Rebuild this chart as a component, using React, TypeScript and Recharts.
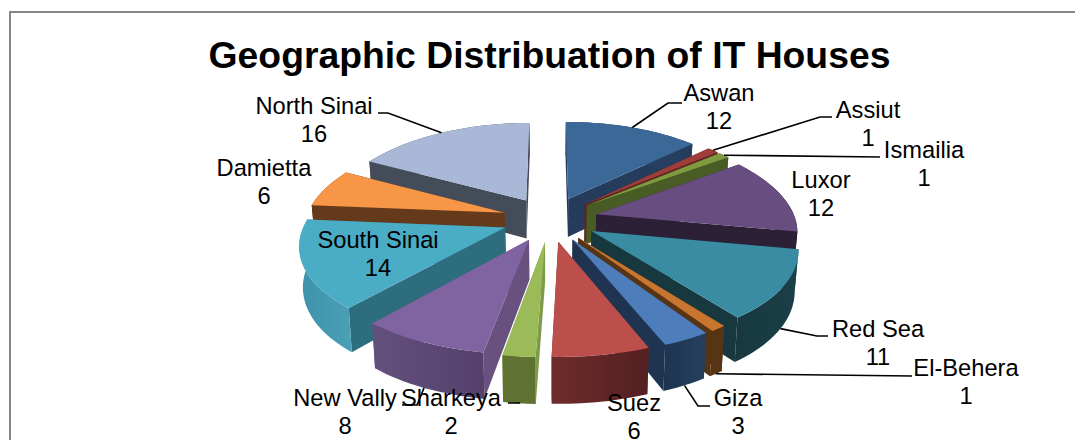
import { PieChart, Pie } from "recharts";

const PLACES = ["Aswan", "Assiut", "Ismailia", "Luxor", "Red Sea", "El-Behera", "Giza", "Suez", "Sharkeya", "New Vally", "South Sinai", "Damietta", "North Sinai"];
const HOUSES = [12, 1, 1, 12, 11, 1, 3, 6, 2, 8, 14, 6, 16];

const pieData = PLACES.map((name, i) => ({ name, value: HOUSES[i] }));

// back slices first, so the front ones cover their walls
const DRAW_ORDER = ["Aswan", "North Sinai", "Assiut", "Ismailia", "Damietta", "Luxor", "South Sinai", "Red Sea", "El-Behera", "New Vally", "Giza", "Sharkeya", "Suez"];

// top face, radial wall, outer wall left, outer wall right
const FACE_COLORS: Record<string, string[]> = {
  Aswan: ["#3C6898", "#253C5C", "#2E4C74", "#253C5C"],
  Assiut: ["#9E3D3A", "#5E2422", "#5E2422", "#5E2422"],
  Ismailia: ["#7F9A3F", "#495C26", "#495C26", "#495C26"],
  Luxor: ["#684E80", "#2B2035", "#2B2035", "#2B2035"],
  "Red Sea": ["#3A8CA3", "#17383F", "#17383F", "#1B4049"],
  "El-Behera": ["#C8752F", "#573414", "#573414", "#573414"],
  Giza: ["#4D7DBB", "#1F3450", "#1F3450", "#24405F"],
  Suez: ["#BC4F4C", "#6E2C2B", "#6E2C2B", "#542020"],
  Sharkeya: ["#9BBB59", "#7F9A48", "#5F7232", "#5F7232"],
  "New Vally": ["#8064A2", "#68507F", "#64507D", "#54406B"],
  "South Sinai": ["#4BACC6", "#2E6D7E", "#3D93AB", "#4BA0B8"],
  Damietta: ["#F79646", "#643A1B", "#643A1B", "#643A1B"],
  "North Sinai": ["#A8B8D6", "#454C59", "#454C59", "#454C59"],
};

// label centre and the bend of its leader line
const LABELS: Record<string, { x: number; y: number; bend?: number[][]; wall?: boolean }> = {
  Aswan: { x: 719, y: 93, bend: [[668, 103], [682, 103]] },
  Assiut: { x: 868, y: 110, bend: [[820, 117], [832, 117]] },
  Ismailia: { x: 924, y: 150, bend: [[880, 157]] },
  Luxor: { x: 821, y: 180 },
  "Red Sea": { x: 878, y: 329, bend: [[817, 336], [828, 336]], wall: true },
  "El-Behera": { x: 966, y: 368, bend: [[912, 376]], wall: true },
  Giza: { x: 738, y: 398, bend: [[698, 406], [710, 406]], wall: true },
  Suez: { x: 634, y: 403 },
  Sharkeya: { x: 451, y: 398, bend: [[520, 403], [508, 403]], wall: true },
  "New Vally": { x: 345, y: 398, bend: [[417, 405], [402, 405]], wall: true },
  "South Sinai": { x: 378, y: 240 },
  Damietta: { x: 264, y: 168 },
  "North Sinai": { x: 314, y: 106, bend: [[388, 113], [378, 113]] },
};

const CX = 550;
const CY = 219;
const RADIUS = 199;
const SQUASH = 0.466; // vertical radius over horizontal radius
const TILT_Y = 0.136; // perspective strength
const TILT_X = 0.16;
const EXPLODE = 0.24;
const DEPTH = 39;
const FONT = "'Liberation Sans', Arial, sans-serif";

// angle is the recharts one, r is the fraction of the radius
function project(angle: number, r: number, midAngle: number, floor = false) {
  const a = (angle * Math.PI) / 180;
  const m = (midAngle * Math.PI) / 180;
  const px = r * Math.cos(a) + EXPLODE * Math.cos(m);
  const py = -r * Math.sin(a) - EXPLODE * Math.sin(m);
  const wx = 1 / (1 - TILT_X * py);
  const wy = 1 / (1 - TILT_Y * py);
  const shrink = floor ? 0.985 : 1;
  return {
    x: CX + RADIUS * px * wx * shrink,
    y: CY + RADIUS * SQUASH * py * wy + (floor ? DEPTH * wy : 0),
  };
}

function toPath(points: { x: number; y: number }[]) {
  return "M" + points.map((p) => `${p.x.toFixed(1)},${p.y.toFixed(1)}`).join("L") + "Z";
}

function Slice({ name, startAngle, endAngle }: any) {
  const mid = (startAngle + endAngle) / 2;
  const colors = FACE_COLORS[name];
  const steps = Math.max(2, Math.ceil(Math.abs(endAngle - startAngle) / 2));
  const arcAngles: number[] = [];
  for (let i = 0; i <= steps; i++) arcAngles.push(startAngle + ((endAngle - startAngle) * i) / steps);

  const arc = arcAngles.map((a) => project(a, 1, mid));
  const arcFloor = arcAngles.map((a) => project(a, 1, mid, true));
  const apex = project(mid, 0, mid);
  const apexFloor = project(mid, 0, mid, true);
  const first = arc.length - 1;

  return (
    <g>
      <path d={toPath([apex, apexFloor, arcFloor[0], arc[0]])} fill={colors[1]} />
      <path d={toPath([apex, apexFloor, arcFloor[first], arc[first]])} fill={colors[1]} />
      <path d={toPath([...arc, ...[...arcFloor].reverse()])} fill={`url(#wall-${PLACES.indexOf(name)})`} />
      <path d={toPath([apex, ...arc])} fill={colors[0]} />
    </g>
  );
}

function SliceLabel({ name, value, startAngle, endAngle }: any) {
  const spot = LABELS[name];
  const mid = (startAngle + endAngle) / 2;
  const start = project(mid, 1, mid, !!spot.wall);
  const line = spot.bend ? [[start.x, start.y], ...spot.bend] : null;
  return (
    <g>
      {line && <polyline points={line.map((p) => p.join(",")).join(" ")} fill="none" stroke="#000" strokeWidth={1.6} />}
      <text x={spot.x} y={spot.y + 8} textAnchor="middle" fontFamily={FONT} fontSize={23.7} fill="#000">
        {name}
      </text>
      <text x={spot.x} y={spot.y + 36} textAnchor="middle" fontFamily={FONT} fontSize={23.7} fill="#000">
        {value}
      </text>
    </g>
  );
}

export default function App() {
  return (
    <div style={{ position: "absolute", left: 0, top: 0, width: 1075, height: 440, overflow: "hidden", background: "#fff" }}>
      <div style={{ position: "absolute", left: 9, top: 11, width: 1080, height: 440, borderLeft: "2px solid #868686", borderTop: "2px solid #868686" }} />
      <div style={{ position: "absolute", left: 0, top: 0 }}>
        <PieChart width={1075} height={440} margin={{ top: 0, right: 0, bottom: 0, left: 0 }}>
          <defs>
            {PLACES.map((name, i) => (
              <linearGradient key={name} id={`wall-${i}`} x1="0" y1="0" x2="1" y2="0">
                <stop offset="0%" stopColor={FACE_COLORS[name][2]} />
                <stop offset="100%" stopColor={FACE_COLORS[name][3]} />
              </linearGradient>
            ))}
          </defs>
          <text x={549.5} y={68} textAnchor="middle" fontFamily={FONT} fontSize={37.3} fontWeight="bold" fill="#000">
            Geographic Distribuation of IT Houses
          </text>
          {DRAW_ORDER.map((place) => (
            <Pie
              key={place}
              data={pieData}
              dataKey="value"
              nameKey="name"
              cx={CX}
              cy={CY}
              outerRadius={RADIUS}
              startAngle={90}
              endAngle={-270}
              stroke="none"
              isAnimationActive={false}
              shape={(props: any) => (props.name === place ? <Slice {...props} /> : <g />)}
            />
          ))}
          <Pie
            data={pieData}
            dataKey="value"
            nameKey="name"
            cx={CX}
            cy={CY}
            outerRadius={RADIUS}
            startAngle={90}
            endAngle={-270}
            stroke="none"
            isAnimationActive={false}
            shape={() => <g />}
            labelLine={false}
            label={(props: any) => <SliceLabel {...props} />}
          />
        </PieChart>
      </div>
    </div>
  );
}
